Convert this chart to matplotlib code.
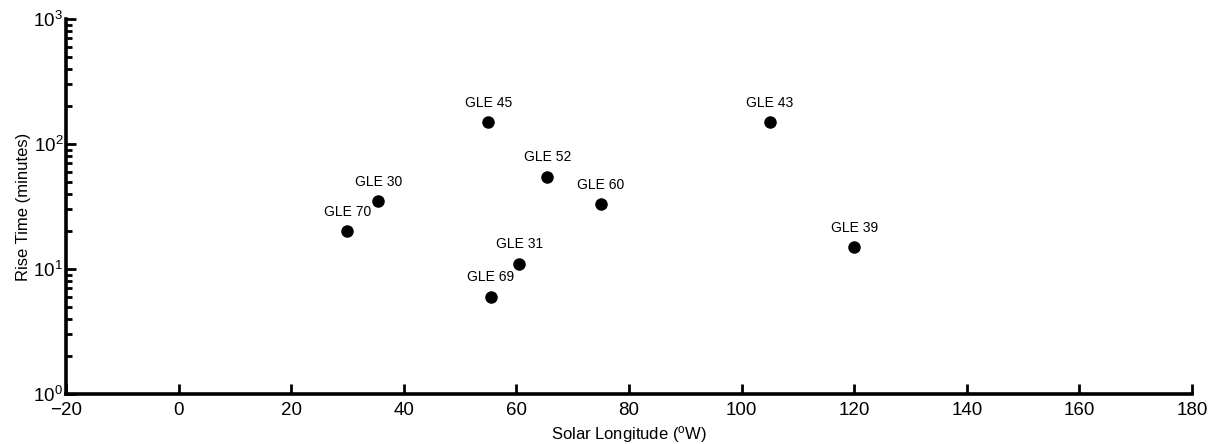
import numpy as np
import matplotlib
matplotlib.use("Agg")
import matplotlib.pyplot as plt
from matplotlib.ticker import LogLocator, NullFormatter

# Data
events = ["GLE 70", "GLE 30", "GLE 45", "GLE 52", "GLE 60", "GLE 31", "GLE 69", "GLE 43", "GLE 39"]
longitude = [30, 35.5, 55, 65.5, 75, 60.5, 55.5, 105, 120]
rise_time = [20, 35, 150, 55, 33, 11, 6, 150, 15]

xticks = [-20, 0, 20, 40, 60, 80, 100, 120, 140, 160, 180]

plt.rcParams['font.family'] = ['Liberation Sans', 'DejaVu Sans']
plt.rcParams['mathtext.fontset'] = 'custom'
plt.rcParams['mathtext.rm'] = 'Liberation Sans'
plt.rcParams['mathtext.it'] = 'Liberation Sans'

fig = plt.figure(figsize=(12.17, 4.44), dpi=100)
ax = fig.add_axes([0.0542, 0.1126, 0.9253, 0.8444])

ax.plot(longitude, rise_time, 'o', color='black', markersize=8)
for name, lon, rt in zip(events, longitude, rise_time):
    ax.annotate(name, (lon, rt), xytext=(0, 9), textcoords='offset points',
                ha='center', va='bottom', fontsize=10)

ax.set_yscale('log')
ax.set_xlim(-20, 180)
ax.set_ylim(1, 1000)
ax.set_xticks(xticks)
ax.yaxis.set_minor_locator(LogLocator(base=10, subs=np.arange(2, 10)))
ax.yaxis.set_minor_formatter(NullFormatter())

ax.set_xlabel(r'Solar Longitude ($^{\mathrm{o}}$W)', fontsize=12, labelpad=3)
ax.set_ylabel('Rise Time (minutes)', fontsize=12, labelpad=2)

for side in ['top', 'right']:
    ax.spines[side].set_visible(False)
for side in ['left', 'bottom']:
    ax.spines[side].set_linewidth(2.6)

ax.tick_params(which='major', direction='in', length=7, width=2, labelsize=13.5)
ax.tick_params(axis='x', which='major', pad=6)
ax.tick_params(axis='y', which='major', pad=2)
ax.tick_params(which='minor', direction='in', length=4, width=2)

plt.savefig("out.png", dpi=100)
plt.close()
